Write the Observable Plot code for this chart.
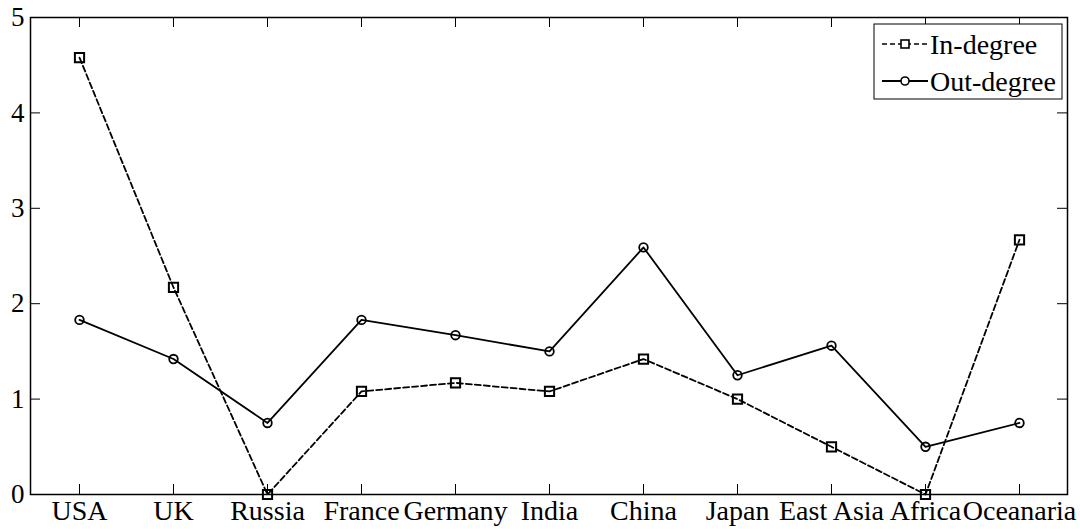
<!DOCTYPE html>
<html>
<head>
<meta charset="utf-8">
<script src="https://cdn.jsdelivr.net/npm/d3@7"></script>
<script src="https://cdn.jsdelivr.net/npm/@observablehq/plot@0.6"></script>
<style>
  html, body { margin: 0; padding: 0; background: #fff; }
  #chart svg { display: block; }
</style>
</head>
<body>
<div id="chart"></div>
<script>
const categories = ["USA", "UK", "Russia", "France", "Germany", "India", "China", "Japan", "East Asia", "Africa", "Oceanaria"];
const inDegree  = [4.58, 2.17, 0.00, 1.08, 1.17, 1.08, 1.42, 1.00, 0.50, 0.00, 2.67];
const outDegree = [1.83, 1.42, 0.75, 1.83, 1.67, 1.50, 2.59, 1.25, 1.56, 0.50, 0.75];
const yTicks = [0, 1, 2, 3, 4, 5];
const seriesNames = ["In-degree", "Out-degree"];

const W = 1080, H = 529;
const mL = 30, mR = 13, mT = 17, mB = 35;
const pw = W - mL - mR, ph = H - mT - mB;
const tickLen = 10;
const yTickData = tickLen / ph * 5;

const inData = categories.map((c, i) => ({cat: c, v: inDegree[i]}));
const outData = categories.map((c, i) => ({cat: c, v: outDegree[i]}));
const font = "'Liberation Serif', 'Times New Roman', serif";

const plot = Plot.plot({
  width: W, height: H,
  marginLeft: mL, marginRight: mR, marginTop: mT, marginBottom: mB,
  style: {fontFamily: font, fontSize: "28px", color: "#000", background: "#fff"},
  x: {type: "point", domain: categories, padding: 0.5, label: null},
  y: {domain: [0, 5], label: null},
  marks: [
    Plot.axisX({tickSize: 0, tickPadding: 6, fontSize: 28, fontFamily: font, fill: "#000", label: null}),
    Plot.axisY({ticks: yTicks, tickSize: 0, tickPadding: 6, fontSize: 27, fontFamily: font, fill: "#000", tickFormat: d3.format("d"), label: null}),
    // inward ticks
    Plot.ruleX(categories, {x: d => d, y1: 0, y2: yTickData, stroke: "#000", strokeWidth: 1}),
    Plot.ruleX(categories, {x: d => d, y1: 5, y2: 5 - yTickData, stroke: "#000", strokeWidth: 1}),
    Plot.tickY(yTicks, {y: d => d, insetRight: pw - tickLen, stroke: "#000", strokeWidth: 1}),
    Plot.tickY(yTicks, {y: d => d, insetLeft: pw - tickLen, stroke: "#000", strokeWidth: 1}),
    Plot.line(inData, {x: "cat", y: "v", stroke: "#000", strokeWidth: 1.8, strokeDasharray: "6,3"}),
    Plot.line(outData, {x: "cat", y: "v", stroke: "#000", strokeWidth: 1.8}),
    Plot.dot(inData, {x: "cat", y: "v", symbol: "square", r: 5.2, stroke: "#000", strokeWidth: 2, fill: "none"}),
    Plot.dot(outData, {x: "cat", y: "v", symbol: "circle", r: 4.3, stroke: "#000", strokeWidth: 1.8, fill: "none"}),
    Plot.frame({stroke: "#000", strokeWidth: 1.5})
  ]
});

document.getElementById("chart").appendChild(plot);

// Legend (MATLAB-style box, top right inside plot)
const svg = d3.select(plot);
const lg = svg.append("g").attr("transform", `translate(${874},${24})`);
lg.append("rect").attr("x", 0).attr("y", 0).attr("width", 188).attr("height", 75)
  .attr("fill", "#fff").attr("stroke", "#000").attr("stroke-width", 1);
const rows = [
  {name: seriesNames[0], dash: "5,3", sym: "square"},
  {name: seriesNames[1], dash: null, sym: "circle"}
];
rows.forEach((r, i) => {
  const cy = 20 + i * 37;
  const ln = lg.append("line").attr("x1", 8).attr("x2", 54).attr("y1", cy).attr("y2", cy)
    .attr("stroke", "#000").attr("stroke-width", r.dash ? 1.6 : 2);
  if (r.dash) ln.attr("stroke-dasharray", r.dash);
  if (r.sym === "square") {
    lg.append("rect").attr("x", 31 - 4).attr("y", cy - 4).attr("width", 8).attr("height", 8)
      .attr("fill", "#fff").attr("stroke", "#000").attr("stroke-width", 1.6);
  } else {
    lg.append("circle").attr("cx", 31).attr("cy", cy).attr("r", 4)
      .attr("fill", "#fff").attr("stroke", "#000").attr("stroke-width", 1.6);
  }
  lg.append("text").attr("x", 56).attr("y", cy).attr("dy", "0.35em")
    .attr("text-anchor", "start")
    .attr("font-family", font).attr("font-size", 28).attr("fill", "#000").text(r.name);
});
</script>
</body>
</html>
